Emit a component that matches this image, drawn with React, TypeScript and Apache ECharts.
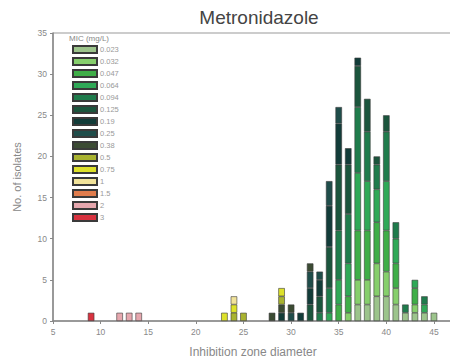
import React, { useEffect, useRef } from "react";
import * as echarts from "echarts";

const diameters: string[] = [];
for (let d = 5; d <= 47; d++) diameters.push(String(d));

const micLabels = ["0.023", "0.032", "0.047", "0.064", "0.094", "0.125", "0.19", "0.25", "0.38", "0.5", "0.75", "1", "1.5", "2", "3"];
const micColors = ["#9cc48c", "#86cf6c", "#3fae48", "#2fa957", "#1f7c4c", "#1b553d", "#123c39", "#1f4d4a", "#3b4b33", "#a9b330", "#dde12a", "#f1e39a", "#e07c4c", "#e6a7ae", "#d8323f"];

// counts per diameter [diameter, count] for each MIC
const mic0023: [number, number][] = [[37, 2], [38, 2], [39, 3], [40, 3], [41, 2], [42, 1], [43, 1], [44, 1], [45, 1]];
const mic0032: [number, number][] = [[36, 1], [37, 3], [38, 3], [39, 4], [40, 3], [41, 2], [43, 1]];
const mic0047: [number, number][] = [[35, 2], [36, 2], [37, 6], [38, 6], [39, 5], [40, 5], [41, 3], [43, 2]];
const mic0064: [number, number][] = [[34, 1], [35, 3], [36, 4], [37, 7], [38, 6], [39, 4], [40, 6], [41, 3], [43, 1], [44, 1]];
const mic0094: [number, number][] = [[33, 1], [34, 3], [35, 6], [36, 6], [37, 8], [38, 6], [39, 3], [40, 6], [41, 2], [42, 1], [44, 1]];
const mic0125: [number, number][] = [[32, 2], [33, 2], [34, 5], [35, 8], [36, 6], [37, 5], [38, 4], [39, 1], [40, 2]];
const mic019: [number, number][] = [[29, 1], [31, 1], [32, 2], [33, 2], [34, 5], [35, 5], [36, 2], [37, 1]];
const mic025: [number, number][] = [[30, 1], [32, 2], [33, 1], [34, 3], [35, 2]];
const mic038: [number, number][] = [[28, 1], [29, 1], [30, 1], [32, 1]];
const mic05: [number, number][] = [[24, 1], [25, 1], [29, 1]];
const mic075: [number, number][] = [[23, 1], [24, 1], [29, 1]];
const mic1: [number, number][] = [[24, 1]];
const mic15: [number, number][] = [];
const mic2: [number, number][] = [[12, 1], [13, 1], [14, 1]];
const mic3: [number, number][] = [[9, 1]];

const micData = [mic0023, mic0032, mic0047, mic0064, mic0094, mic0125, mic019, mic025, mic038, mic05, mic075, mic1, mic15, mic2, mic3];

export default function App() {
  const ref = useRef<HTMLDivElement>(null);
  useEffect(() => {
    if (!ref.current) return;
    const chart = echarts.init(ref.current, undefined, { renderer: "svg" });
    const series = micLabels.map((lab, i) => {
      const arr = diameters.map(() => 0);
      micData[i].forEach(([d, c]) => { arr[d - 5] = c; });
      return {
        name: lab,
        type: "bar",
        stack: "all",
        barWidth: 6.5,
        data: arr.map((v) => (v === 0 ? null : v)),
        itemStyle: { color: micColors[i], borderColor: "#3a3a3a", borderWidth: 0.6 },
      };
    });
    chart.setOption({
      animation: false,
      textStyle: { fontFamily: "Liberation Sans" },
      title: {
        text: "Metronidazole",
        left: 254,
        textAlign: "center",
        top: 3,
        textStyle: { fontSize: 19, fontWeight: "normal", color: "#444" },
      },
      grid: { left: 53, right: 5, top: 33, bottom: 43, show: true, borderColor: "#999", borderWidth: 1 },
      legend: {
        orient: "vertical",
        left: 67,
        top: 40,
        itemWidth: 24,
        itemHeight: 7,
        itemGap: 3,
        icon: "rect",
        textStyle: { fontSize: 7.5, lineHeight: 7, color: "#999", padding: [0, 0, 0, -2] },
        data: micLabels,
      },
      graphic: [
        { type: "text", left: 69, top: 34, style: { text: "MIC (mg/L)", fontSize: 8, fill: "#888", fontFamily: "Liberation Sans" } },
      ],
      xAxis: {
        type: "category",
        data: diameters,
        boundaryGap: false,
        name: "Inhibition zone diameter",
        nameLocation: "middle",
        nameGap: 25,
        nameTextStyle: { fontSize: 12, color: "#888" },
        axisLine: { lineStyle: { color: "#888", width: 1.5 } },
        axisTick: { interval: (idx: number) => idx % 5 === 0, length: 3, lineStyle: { color: "#888" } },
        axisLabel: { interval: (idx: number) => idx % 5 === 0, fontSize: 8.5, color: "#888", margin: 6 },
        splitLine: { show: false },
      },
      yAxis: {
        type: "value",
        min: 0,
        max: 35,
        interval: 5,
        name: "No. of isolates",
        nameLocation: "middle",
        nameGap: 31,
        nameTextStyle: { fontSize: 11, color: "#888" },
        axisLine: { show: true, lineStyle: { color: "#888", width: 1.5 } },
        axisTick: { show: true, length: 3, lineStyle: { color: "#888" } },
        axisLabel: { fontSize: 8.5, color: "#888", margin: 6 },
        splitLine: { show: false },
      },
      series,
    });
    return () => chart.dispose();
  }, []);
  return <div ref={ref} style={{ width: 458, height: 364, margin: -8, background: "#fff" }} />;
}
